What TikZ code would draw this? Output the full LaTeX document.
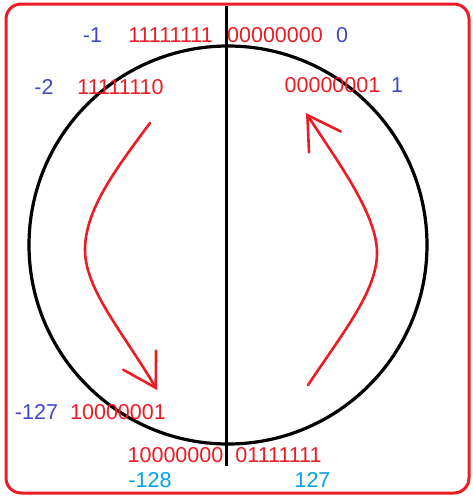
\documentclass[tikz,border=0pt]{standalone}
\usepackage{fontspec}
\setmainfont{Liberation Sans}
\usetikzlibrary{arrows.meta}
\definecolor{bitred}{RGB}{237,28,36}
\definecolor{numblue}{RGB}{63,72,204}
\definecolor{numcyan}{RGB}{0,162,232}
\begin{document}
\begin{tikzpicture}[x=1pt,y=-1pt,
  text node/.style={anchor=base,inner sep=0.,outer sep=0.,font=\fontsize{21.5}{25}\selectfont},
  bits node/.style={text node,text=bitred},
  num node/.style={text node,text=numblue},
  pos node/.style={text node,text=numcyan},
  turn arrow/.style={draw=bitred,line width=2.6pt,line cap=round,-{Straight Barb[length=32pt,width=38pt,line cap=round]}}]%
  \useasboundingbox (0., 0.) rectangle (472., 498.);
  \draw[draw=bitred,line width=3.pt,rounded corners=15pt] (6., 4.) rectangle (469., 493.);
  \draw[draw=black,line width=3.2pt] (228., 245.) circle (199.);
  \draw[draw=black,line width=3.pt] (226., 6.) -- (226., 466.);
  \node[num node] (m1) at (92.5, 42.7) {-1};
  \node[bits node] (b255) at (170.5, 42.7) {11111111};
  \node[bits node] (b0) at (275., 42.7) {00000000};
  \node[num node] (p0) at (342., 42.7) {0};
  \node[num node] (m2) at (44., 94.) {-2};
  \node[bits node] (b254) at (120.5, 94.) {11111110};
  \node[bits node] (b1) at (332.5, 92.) {00000001};
  \node[num node] (p1) at (397., 92.) {1};
  \node[num node] (m127) at (36.5, 419.) {-127};
  \node[bits node] (b129) at (118., 419.) {10000001};
  \node[bits node] (b128) at (175.5, 462.) {10000000};
  \node[bits node] (b127) at (278.5, 462.) {01111111};
  \node[pos node] (m128) at (150., 487.) {-128};
  \node[pos node] (p127) at (312.5, 487.) {127};
  \draw[turn arrow] (150., 123.) .. controls (115., 170.) and (85., 210.) .. (85., 250.)
    .. controls (85., 290.) and (125., 335.) .. (157., 390.);
  \draw[turn arrow] (308., 385.) .. controls (345., 330.) and (377., 290.) .. (377., 253.)
    .. controls (377., 215.) and (340., 165.) .. (306., 113.);
\end{tikzpicture}
\end{document}
